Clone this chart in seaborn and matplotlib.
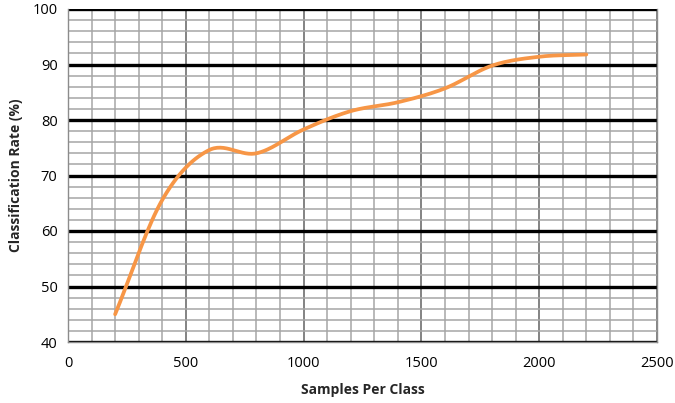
import numpy as np
import pandas as pd
import matplotlib
matplotlib.use("Agg")
import matplotlib.pyplot as plt
import seaborn as sns
from matplotlib.ticker import MultipleLocator

# values
samples = [200, 400, 600, 800, 1000, 1200, 1400, 1600, 1800, 2000, 2200]
rate = [45.0, 65.6, 74.6, 74.0, 78.3, 81.6, 83.2, 85.7, 89.8, 91.4, 91.8]


def smooth_curve(xs, ys, n=30):
    # Catmull-Rom style smoothing, like Excel's "smoothed line"
    xs = np.asarray(xs, float)
    ys = np.asarray(ys, float)
    px = np.concatenate([[2 * xs[0] - xs[1]], xs, [2 * xs[-1] - xs[-2]]])
    py = np.concatenate([[2 * ys[0] - ys[1]], ys, [2 * ys[-1] - ys[-2]]])
    out_x, out_y = [], []
    t = np.linspace(0, 1, n, endpoint=False)
    for i in range(1, len(px) - 2):
        for arr, out in ((px, out_x), (py, out_y)):
            p0, p1, p2, p3 = arr[i - 1], arr[i], arr[i + 1], arr[i + 2]
            out.extend(0.5 * ((2 * p1) + (-p0 + p2) * t
                              + (2 * p0 - 5 * p1 + 4 * p2 - p3) * t ** 2
                              + (-p0 + 3 * p1 - 3 * p2 + p3) * t ** 3))
    out_x.append(xs[-1])
    out_y.append(ys[-1])
    return np.array(out_x), np.array(out_y)


sns.set_style("white")
plt.rcParams["font.family"] = ["Open Sans", "DejaVu Sans"]

sx, sy = smooth_curve(samples, rate)
df = pd.DataFrame({"Samples Per Class": sx, "Classification Rate (%)": sy})

fig = plt.figure(figsize=(6.75, 4.03), dpi=100)
ax = fig.add_axes([68 / 675, 61 / 403, 589 / 675, 333 / 403])

ax.set_xlim(0, 2500)
ax.set_ylim(40, 100)
ax.xaxis.set_major_locator(MultipleLocator(500))
ax.xaxis.set_minor_locator(MultipleLocator(100))
ax.yaxis.set_major_locator(MultipleLocator(10))
ax.yaxis.set_minor_locator(MultipleLocator(2))

ax.grid(which="minor", axis="both", color="#a6a6a6", linewidth=1.1)
ax.grid(which="major", axis="x", color="#6e6e6e", linewidth=1.2)
ax.grid(which="major", axis="y", color="black", linewidth=2.4)
ax.set_axisbelow(True)

sns.lineplot(data=df, x="Samples Per Class", y="Classification Rate (%)",
             ax=ax, color="#f79646", linewidth=2.7, sort=False)

for side in ["left", "bottom", "right"]:
    ax.spines[side].set_color("#8c8c8c")
    ax.spines[side].set_linewidth(1.0)
ax.spines["top"].set_visible(False)

ax.tick_params(axis="both", which="major", direction="out", length=4,
               color="#8c8c8c", labelsize=10.5, labelcolor="black")
ax.tick_params(axis="y", which="minor", direction="out", length=2, color="#8c8c8c")
ax.tick_params(axis="x", which="minor", length=0)
ax.tick_params(axis="x", which="major", pad=6)

ax.set_xlabel("Samples Per Class", fontsize=10, fontweight="bold", labelpad=9)
ax.set_ylabel("Classification Rate (%)", fontsize=10, fontweight="bold", labelpad=7)

fig.savefig("out.png", dpi=100)
